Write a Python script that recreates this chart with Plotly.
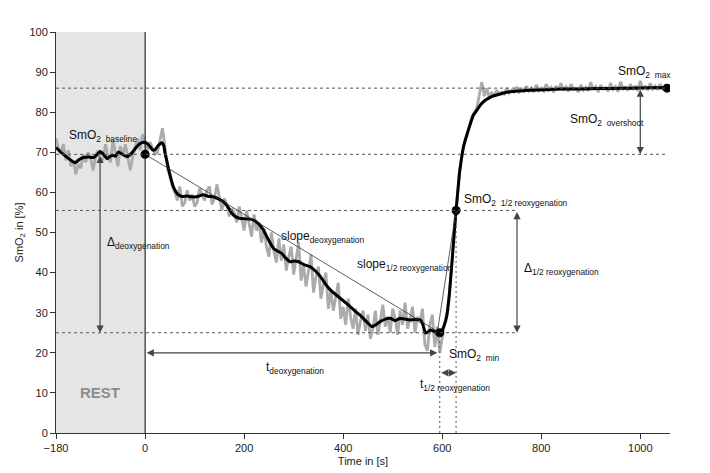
import numpy as np
import plotly.graph_objects as go

# raw SmO2 signal, one sample every 5 s starting at -180 s
raw_start = -180
raw_step = 5
raw_rest = [73.5, 71.0, 70.0, 72.0, 68.0, 70.5, 66.5, 68.0, 64.5, 67.0, 66.0, 69.5, 67.5,
            70.0, 68.5, 65.5, 69.0, 70.5, 67.5, 68.5, 72.0, 69.0, 67.5, 73.0, 70.0, 66.5,
            71.5, 69.5, 72.0, 68.5, 65.5, 69.0, 71.0, 73.5, 70.5, 74.5, 72.0]
raw_early = [70.5, 72.5, 71.0, 69.5, 70.0, 73.0, 76.0, 71.5, 66.0, 64.0, 61.5, 60.0, 58.0,
             61.5, 56.5, 57.5, 60.5, 58.0, 59.5, 56.5, 57.5, 61.0, 59.5, 58.0, 60.5, 61.5,
             57.0, 58.5, 62.0, 59.0, 55.5, 58.5, 57.0, 54.0, 56.0]
raw_decline = [55.0, 52.5, 56.5, 53.5, 50.5, 55.5, 52.0, 49.0, 54.5, 50.5, 52.5, 47.5, 51.0,
               46.5, 44.0, 50.0, 45.5, 42.5, 48.5, 43.0, 47.0, 40.5, 44.0, 46.5, 39.5, 43.5,
               47.5, 38.0, 42.0, 36.5, 40.5, 44.5, 35.0, 39.0, 41.5, 33.5, 37.0, 40.0, 31.0,
               35.5, 30.5, 34.0, 37.5, 28.5, 31.5, 27.0, 33.5, 29.0, 26.0, 31.0, 24.5, 28.0,
               30.5]
raw_low = [25.5, 29.5, 23.5, 26.0, 30.5, 24.5, 28.0, 32.0, 26.5, 29.0, 25.0, 31.0, 28.5,
           24.5, 30.5, 27.0, 32.5, 26.0, 28.5, 31.5, 25.0, 29.0, 27.5, 31.0, 22.0, 20.5,
           27.0, 29.5, 21.5, 26.5, 20.0, 24.0, 27.5, 30.5]
raw_recovery = [35.5, 43.5, 51.0, 58.5, 65.5, 69.5, 72.5, 74.0, 76.5, 79.0, 80.0, 81.0,
                84.5, 87.5, 84.0, 86.0, 83.5, 85.0]
raw_plateau = [84.0, 85.5, 84.5, 85.0, 84.5, 86.0, 84.8, 85.5, 85.0, 86.3, 85.0, 85.8, 85.2,
               86.5, 85.3, 86.0, 85.0, 86.8, 85.4, 86.0, 85.3, 87.0, 85.5, 86.2, 85.0, 86.5,
               85.6, 87.2, 85.4, 86.3, 85.2, 87.0, 85.8, 86.0, 85.0, 86.8, 85.5, 86.2, 85.3,
               87.5, 85.6, 86.4, 85.0, 86.8, 85.8, 86.2, 85.2, 87.3, 85.7, 86.4, 85.1, 87.6,
               85.8, 86.3, 85.4, 87.0, 85.6, 86.6, 85.3, 87.8, 85.9, 86.4, 85.5, 87.2, 85.8,
               86.5, 85.6, 87.0, 85.9, 86.4, 86.0]

# smoothed signal
smooth_t = [-180, -170, -160, -150, -141, -133, -125, -115, -104, -97, -91, -84, -77, -67,
            -60, -54, -46, -37, -27, -17, -10, -3, 3, 10, 15, 20, 27, 34, 38, 40, 44, 47,
            52, 57, 62, 67, 75, 84, 94, 104, 111, 118, 128, 138, 148, 158, 167, 175, 183,
            192, 205, 219, 229, 239, 249, 259, 267, 276, 284, 293, 302, 310, 322, 333, 344,
            354, 364, 374, 384, 394, 404, 414, 424, 434, 446, 458, 466, 475, 485, 495, 505,
            515, 525, 535, 545, 556, 561, 566, 571, 576, 584, 593, 598, 603, 609, 614, 620,
            624, 628, 632, 635, 639, 643, 650, 657, 663, 670, 677, 685, 694, 702, 710, 724,
            737, 757, 778, 810, 845, 880, 912, 945, 980, 1020, 1054]
smooth_v = [71.2, 70.0, 69.0, 68.0, 67.4, 68.2, 68.7, 68.8, 68.7, 69.4, 70.2, 69.5, 68.4, 69.3,
            69.0, 70.1, 69.5, 68.9, 69.8, 71.4, 72.2, 72.5, 72.3, 71.4, 70.6, 70.6, 71.8, 72.4,
            71.5, 69.8, 67.8, 66.0, 63.5, 61.4, 60.2, 59.4, 59.0, 59.1, 58.9, 58.9, 59.2, 59.4,
            59.0, 58.9, 58.4, 57.7, 56.4, 54.8, 53.9, 53.5, 53.4, 53.1, 52.2, 50.6, 48.2, 46.1,
            45.4, 44.8, 43.6, 42.7, 42.9, 42.7, 41.9, 41.5, 40.4, 39.0, 37.2, 35.7, 34.6, 33.6,
            32.6, 31.5, 30.4, 29.4, 27.9, 26.5, 27.0, 27.8, 28.4, 28.6, 28.0, 28.6, 28.4, 28.2,
            28.3, 28.2, 27.0, 24.9, 25.2, 25.7, 25.3, 24.9, 25.2, 26.5, 29.0, 34.0, 43.0, 49.5,
            55.6, 61.0, 65.0, 68.5, 71.4, 74.5, 77.2, 79.3, 80.5, 81.8, 82.8, 83.5, 84.0, 84.3,
            84.8, 85.1, 85.3, 85.5, 85.6, 85.8, 85.8, 85.9, 85.9, 86.0, 86.1, 86.1]

# characteristic points
baseline_t, baseline_v = 0, 69.5
min_t, min_v = 595, 25.0
half_t, half_v = 628, 55.5
max_t, max_v = 1054, 86.0

raw_v = raw_rest + raw_early + raw_decline + raw_low + raw_recovery + raw_plateau
raw_t = raw_start + raw_step * np.arange(len(raw_v))

FONT = 'Liberation Sans, Arial, sans-serif'
LINE = '#444444'

fig = go.Figure()
fig.add_trace(go.Scatter(x=raw_t, y=raw_v, mode='lines', line=dict(color='#ababab', width=2.8),
                         hoverinfo='skip'))
fig.add_trace(go.Scatter(x=smooth_t, y=smooth_v, mode='lines', line=dict(color='black', width=3),
                         line_shape='spline', line_smoothing=0.3))
# slopes
fig.add_trace(go.Scatter(x=[baseline_t, min_t], y=[baseline_v, min_v], mode='lines',
                         line=dict(color='#333333', width=0.8)))
fig.add_trace(go.Scatter(x=[min_t - 5, half_t], y=[min_v, half_v], mode='lines',
                         line=dict(color='#333333', width=0.8)))
fig.add_trace(go.Scatter(x=[baseline_t, min_t, half_t, max_t], y=[baseline_v, min_v, half_v, max_v],
                         mode='markers', marker=dict(color='black', size=9)))

# rest area and reference lines
fig.add_shape(type='rect', x0=-180, x1=0, y0=0, y1=100, fillcolor='#e5e5e5', line_width=0, layer='below')
fig.add_shape(type='line', x0=0, x1=0, y0=0, y1=100, line=dict(color='black', width=1))
dash = dict(color='#555555', width=1, dash='3px,3px')
fig.add_shape(type='line', x0=-180, x1=max_t, y0=max_v, y1=max_v, line=dash)
fig.add_shape(type='line', x0=-180, x1=max_t, y0=baseline_v, y1=baseline_v, line=dash)
fig.add_shape(type='line', x0=-180, x1=751, y0=half_v, y1=half_v, line=dash)
fig.add_shape(type='line', x0=-180, x1=751, y0=min_v, y1=min_v, line=dash)
dot = dict(color='#555555', width=1, dash='2px,3px')
fig.add_shape(type='line', x0=min_t, x1=min_t, y0=0, y1=min_v, line=dot)
fig.add_shape(type='line', x0=half_t, x1=half_t, y0=0, y1=half_v, line=dot)


def double_arrow(x0, y0, x1, y1):
    fig.add_annotation(x=x1, y=y1, ax=x0, ay=y0, xref='x', yref='y', axref='x', ayref='y',
                       text='', showarrow=True, arrowside='end+start', arrowhead=2, startarrowhead=2,
                       arrowsize=1.2, startarrowsize=1.2, arrowwidth=1.2, arrowcolor=LINE)


double_arrow(-91, baseline_v, -91, min_v)
double_arrow(0, 20, 590, 20)
double_arrow(min_t, 15, half_t, 15)
double_arrow(751, half_v, 751, min_v)
double_arrow(1000, max_v, 1000, baseline_v)


def label(x, y, text, size=12, color='#111111'):
    fig.add_annotation(x=x, y=y, text=text, showarrow=False, xanchor='left', yanchor='middle',
                       font=dict(family=FONT, size=size, color=color))


label(-158, 74, 'SmO<sub>2  baseline</sub>')
label(-82, 47.5, 'Δ<sub>deoxygenation</sub>')
label(271, 49, 'slope<sub>deoxygenation</sub>')
label(424, 42, 'slope<sub>1/2 reoxygenation</sub>')
label(640, 58, 'SmO<sub>2  1/2 reoxygenation</sub>')
label(762, 41, 'Δ<sub>1/2 reoxygenation</sub>')
label(855, 78, 'SmO<sub>2  overshoot</sub>')
label(951, 90, 'SmO<sub>2  max</sub>')
label(610, 19.5, 'SmO<sub>2  min</sub>')
label(240, 16.2, 't<sub>deoxygenation</sub>')
label(552, 12, 't<sub>1/2 reoxygenation</sub>')
fig.add_annotation(x=-91, y=10, text='<b>REST</b>', showarrow=False,
                   font=dict(family=FONT, size=15, color='#8c8c8c'))

# the page puts the figure 8 px in from the top left, so the margins allow for it
axis_font = dict(family=FONT, size=11, color='#222222')
fig.update_xaxes(range=[-180, 1060], tickvals=[-180, 0, 200, 400, 600, 800, 1000],
                 showline=True, linecolor='#333333', linewidth=1, ticks='outside', ticklen=5,
                 tickcolor='#333333', showgrid=False, zeroline=False, tickfont=axis_font,
                 automargin=False, title=dict(text='Time in [s]', font=axis_font, standoff=4))
fig.update_yaxes(range=[0, 100], tickvals=list(range(0, 101, 10)),
                 showline=True, linecolor='#333333', linewidth=1, ticks='outside', ticklen=5,
                 tickcolor='#333333', showgrid=False, zeroline=False, tickfont=axis_font,
                 automargin=False, title=dict(text='SmO<sub>2</sub> in [%]', font=axis_font, standoff=3))
fig.update_layout(width=710, height=473, showlegend=False, plot_bgcolor='white',
                  paper_bgcolor='white', margin=dict(l=48, r=48, t=24, b=48),
                  font=dict(family=FONT))
fig.write_html("out.html")
